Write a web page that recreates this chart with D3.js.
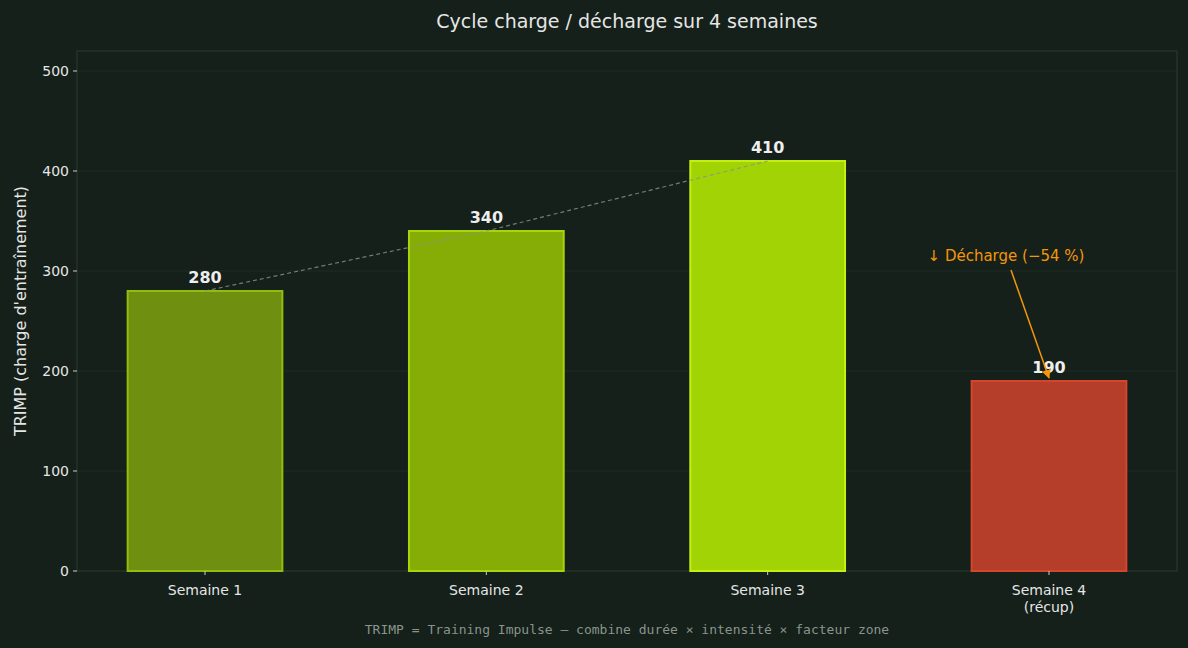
<!DOCTYPE html>
<html><head><meta charset="utf-8">
<script src="https://cdn.jsdelivr.net/npm/d3@7"></script>
<style>
body{margin:0;background:#142019;font-family:"DejaVu Sans",sans-serif;}
</style></head>
<body><svg id="chart"></svg>
<script>
const weeks = ["Semaine 1", "Semaine 2", "Semaine 3", "Semaine 4\n(récup)"];
const trimp = [280, 340, 410, 190];
const fills = ["#6e8f0f", "#86ad06", "#a2d304", "#b53e2b"];
const strokes = ["#8fbf0c", "#a6d60a", "#c4f00f", "#d4452c"];
const yTicks = [0, 100, 200, 300, 400, 500];

const W = 1188, H = 648;
const margin = { top: 51, right: 11, bottom: 77, left: 77 };
const width = W - margin.left - margin.right;
const height = H - margin.top - margin.bottom;

const svg = d3.select("#chart").attr("width", W).attr("height", H);
svg.append("rect").attr("width", W).attr("height", H).attr("fill", "#142019");

const chart = svg.append("g").attr("transform", `translate(${margin.left},${margin.top})`);

const x = d3.scaleLinear().domain([-0.455, 3.455]).range([0, width]);
const y = d3.scaleLinear().domain([0, 520]).range([height, 0]);
const barW = x(0.55) - x(0);

// plot frame + grid
chart.append("rect").attr("width", width).attr("height", height)
  .attr("fill", "#142019").attr("stroke", "#2a3a2f");
chart.selectAll(".grid").data(yTicks.slice(1)).join("line")
  .attr("x1", 0).attr("x2", width)
  .attr("y1", d => y(d)).attr("y2", d => y(d))
  .attr("stroke", "#22302a").attr("stroke-width", 0.8);

// bars
chart.selectAll(".bar").data(trimp).join("rect")
  .attr("x", (d, i) => x(i) - barW / 2)
  .attr("y", d => y(d))
  .attr("width", barW)
  .attr("height", d => y(0) - y(d))
  .attr("fill", (d, i) => fills[i])
  .attr("stroke", (d, i) => strokes[i])
  .attr("stroke-width", 2);

// trend line on load weeks
const line = d3.line().x((d, i) => x(i)).y(d => y(d));
chart.append("path").attr("d", line(trimp.slice(0, 3)))
  .attr("fill", "none").attr("stroke", "#8a948d").attr("stroke-width", 1.2)
  .attr("stroke-dasharray", "4,3").attr("opacity", 0.8);

// value labels
chart.selectAll(".val").data(trimp).join("text")
  .attr("x", (d, i) => x(i)).attr("y", d => y(d) - 8)
  .attr("text-anchor", "middle").attr("fill", "#eeeeee")
  .attr("font-size", 16).attr("font-weight", "bold")
  .text(d => d);

// axes
const xAxis = chart.append("g").attr("transform", `translate(0,${height})`);
weeks.forEach((w, i) => {
  xAxis.append("line").attr("x1", x(i)).attr("x2", x(i)).attr("y1", 0).attr("y2", 4).attr("stroke", "#cccccc");
  w.split("\n").forEach((t, j) => {
    xAxis.append("text").attr("x", x(i)).attr("y", 24 + j * 17)
      .attr("text-anchor", "middle").attr("fill", "#e6e6e6").attr("font-size", 14).text(t);
  });
});
const yAxis = chart.append("g");
yTicks.forEach(t => {
  yAxis.append("line").attr("x1", -4).attr("x2", 0).attr("y1", y(t)).attr("y2", y(t)).attr("stroke", "#cccccc");
  yAxis.append("text").attr("x", -8).attr("y", y(t) + 5).attr("text-anchor", "end")
    .attr("fill", "#e6e6e6").attr("font-size", 14).text(t);
});

// annotation
const ax = x(3), ay = y(193);
const tx = 1011 - margin.left, ty = 270 - margin.top;
svg.append("defs").append("marker").attr("id", "arr").attr("viewBox", "0 0 10 10")
  .attr("refX", 9).attr("refY", 5).attr("markerWidth", 6).attr("markerHeight", 6).attr("orient", "auto")
  .append("path").attr("d", "M0,0L10,5L0,10z").attr("fill", "#f5960a");
chart.append("line").attr("x1", tx).attr("y1", ty).attr("x2", ax).attr("y2", ay)
  .attr("stroke", "#f5960a").attr("stroke-width", 1.5).attr("marker-end", "url(#arr)");
chart.append("text").attr("x", 1006 - margin.left).attr("y", 261 - margin.top)
  .attr("text-anchor", "middle").attr("fill", "#f5960a").attr("font-size", 15)
  .text("↓ Décharge (−54 %)");

// titles
svg.append("text").attr("x", 627).attr("y", 28).attr("text-anchor", "middle")
  .attr("fill", "#e6e6e6").attr("font-size", 19).text("Cycle charge / décharge sur 4 semaines");
svg.append("text").attr("transform", `translate(26,${margin.top + height / 2}) rotate(-90)`)
  .attr("text-anchor", "middle").attr("fill", "#e6e6e6").attr("font-size", 16)
  .text("TRIMP (charge d'entraînement)");
svg.append("text").attr("x", 627).attr("y", 634).attr("text-anchor", "middle")
  .attr("fill", "#8a948d").attr("font-size", 13).attr("font-family", "DejaVu Sans Mono")
  .text("TRIMP = Training Impulse — combine durée × intensité × facteur zone");
</script></body></html>
